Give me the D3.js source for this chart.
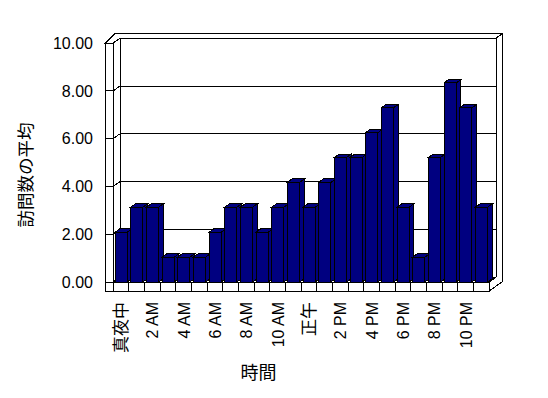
<!DOCTYPE html>
<html>
<head>
<meta charset="utf-8">
<style>
  body { margin: 0; background: #fff; }
  svg { display: block; }
  .frame { fill: #fff; stroke: #000; stroke-width: 1px; shape-rendering: crispEdges; }
  .grid { stroke: #000; stroke-width: 1px; fill: none; shape-rendering: crispEdges; }
  .bar path { fill: #000080; stroke: #000; stroke-width: 1px; shape-rendering: crispEdges; }
  .tick text { font-family: "Liberation Sans", Arial, sans-serif; font-size: 16px; fill: #000; }
  .title { font-family: "Noto Sans CJK JP", sans-serif; fill: #000; }
</style>
<script src="https://cdn.jsdelivr.net/npm/d3@7"></script>
</head>
<body>
<svg width="548" height="398"></svg>
<script>
// hourly categories (24) - only every other one gets a label
var hours = ["真夜中", "1 AM", "2 AM", "3 AM", "4 AM", "5 AM", "6 AM", "7 AM", "8 AM", "9 AM", "10 AM", "11 AM",
             "正午", "1 PM", "2 PM", "3 PM", "4 PM", "5 PM", "6 PM", "7 PM", "8 PM", "9 PM", "10 PM", "11 PM"];
var visits = [2.08, 3.13, 3.13, 1.04, 1.04, 1.04, 2.08, 3.13, 3.13, 2.08, 3.13, 4.17,
              3.13, 4.17, 5.21, 5.21, 6.25, 7.29, 3.13, 1.04, 5.21, 8.33, 7.29, 3.13];
var yTicks = [0, 2, 4, 6, 8, 10];
var yTitle = "訪問数の平均";
var xTitle = "時間";

var svg = d3.select("svg");

var x = d3.scaleBand().domain(hours).range([113.3, 489.3]).padding(0);
var y = d3.scaleLinear().domain([0, 10]).range([282, 43]);

// depth offset of the back wall, wall / floor thickness
var D = { x: 6.7, y: -4.8 };
var wallT = 7.6, floorT = 9;
var X0 = x.range()[0], X1 = x.range()[1], xo = X0 - wallT;
var yTop = y(10), yBot = y(0);

function poly(pts) { return "M" + pts.map(function(p) { return p[0] + "," + p[1]; }).join("L") + "Z"; }
function back(p, k) { k = k || 1; return [p[0] + D.x * k, p[1] + D.y * k]; }

var frame = svg.append("g");

// back wall face
frame.append("path").attr("class", "frame")
  .attr("d", poly([back([X0, yTop]), back([X1, yTop]), back([X1, yBot]), back([X0, yBot])]));
// floor top
frame.append("path").attr("class", "frame")
  .attr("d", poly([[X0, yBot], [X1, yBot], back([X1, yBot]), back([X0, yBot])]));
// left wall inner face
frame.append("path").attr("class", "frame")
  .attr("d", poly([[X0, yTop], back([X0, yTop]), back([X0, yBot]), [X0, yBot]]));
// left wall front face
frame.append("path").attr("class", "frame")
  .attr("d", poly([[xo, yTop], [X0, yTop], [X0, yBot + floorT], [xo, yBot + floorT]]));
// top of walls
frame.append("path").attr("class", "frame")
  .attr("d", poly([[xo, yTop], [X0, yTop], back([X0, yTop]), back([X1, yTop]), back([X1, yTop], 2),
                   [xo - 2 * D.y, yTop + 2 * D.y]]));
// right end of back wall + floor
frame.append("path").attr("class", "frame")
  .attr("d", poly([back([X1, yTop]), back([X1, yTop], 2), back([X1, yBot + floorT], 2),
                   [X1, yBot + floorT], [X1, yBot], back([X1, yBot])]));
// floor front strip
frame.append("path").attr("class", "frame")
  .attr("d", poly([[xo, yBot], [X1, yBot], [X1, yBot + floorT], [xo, yBot + floorT]]));

// category dividers in floor strip
frame.selectAll("line.div").data(hours.slice(1)).enter().append("line")
  .attr("class", "grid")
  .attr("x1", function(d) { return x(d); }).attr("x2", function(d) { return x(d); })
  .attr("y1", yBot).attr("y2", yBot + floorT);
frame.append("line").attr("class", "grid")
  .attr("x1", X0).attr("x2", X0).attr("y1", yBot).attr("y2", yBot + floorT);

// gridlines: front of wall, wall inner face, back wall
var grid = frame.selectAll("g.gl").data(yTicks.slice(1, -1)).enter().append("g");
grid.append("path").attr("class", "grid")
  .attr("d", function(v) {
    var p = [X0, y(v)], b = back(p);
    return "M" + xo + "," + y(v) + "L" + p[0] + "," + p[1] + "L" + b[0] + "," + b[1] + "L" + (X1 + D.x) + "," + b[1];
  });

// y tick labels
svg.append("g").attr("class", "tick")
  .selectAll("text").data(yTicks).enter().append("text")
  .attr("x", 93).attr("y", function(d) { return y(d); })
  .attr("dy", "0.36em").attr("text-anchor", "end")
  .text(d3.format(".2f"));

// bars
var bw = x.bandwidth();
var bd = { x: D.x * 0.7, y: D.y * 0.7 };
var bar = svg.append("g").attr("class", "bar")
  .selectAll("g").data(visits).enter().append("g");
bar.each(function(v, i) {
  var g = d3.select(this);
  var l = x(hours[i]) + 1.7, r = l + bw - 3.4, t = y(v), b = y(0);
  g.append("path").attr("d", poly([[r, b], [r + bd.x, b + bd.y], [r + bd.x, t + bd.y], [r, t]]));
  g.append("path").attr("d", poly([[l, t], [r, t], [r + bd.x, t + bd.y], [l + bd.x, t + bd.y]]));
  g.append("path").attr("d", poly([[l, t], [r, t], [r, b], [l, b]]));
});

// x tick labels (every other hour)
svg.append("g").attr("class", "tick")
  .selectAll("text").data(hours.filter(function(d, i) { return i % 2 === 0; })).enter().append("text")
  .attr("transform", function(d) { return "translate(" + (x(d) + bw / 2) + ",302) rotate(-90)"; })
  .attr("text-anchor", "end").attr("dy", "0.36em")
  .style("font-family", function(d) { return /[A-Z0-9]/.test(d) ? null : "Noto Sans CJK JP"; })
  .style("font-size", function(d) { return /[A-Z0-9]/.test(d) ? null : "17px"; })
  .text(function(d) { return d; });

// axis titles
svg.append("text").attr("class", "title")
  .attr("transform", "translate(26,175) rotate(-90)")
  .attr("text-anchor", "middle").attr("dy", "0.36em")
  .style("font-size", "17.5px")
  .text(yTitle);
svg.append("text").attr("class", "title")
  .attr("x", 258.5).attr("y", 373)
  .attr("text-anchor", "middle").attr("dy", "0.36em")
  .style("font-size", "18px")
  .text(xTitle);
</script>
</body>
</html>
